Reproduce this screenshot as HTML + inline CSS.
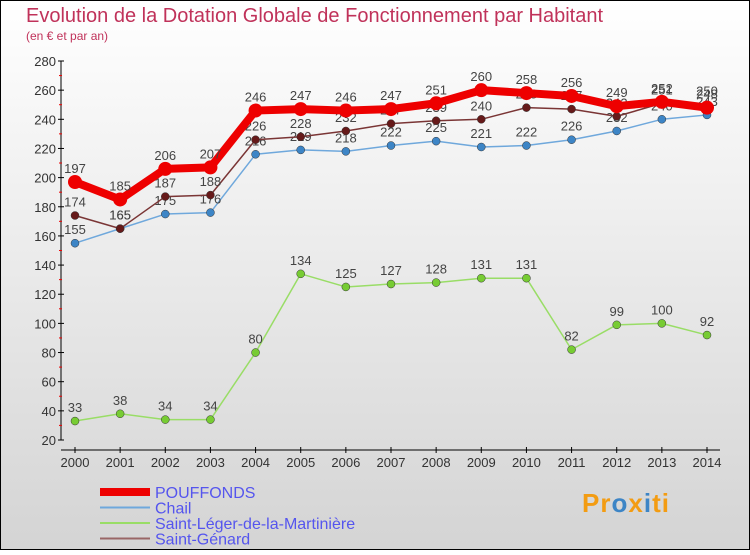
<!DOCTYPE html>
<html><head><meta charset="utf-8"><style>
body{margin:0}
#c{width:750px;height:550px;position:relative;font-family:"Liberation Sans",sans-serif}
</style></head><body>
<div id="c">
<svg id="s" width="750" height="550" xmlns="http://www.w3.org/2000/svg">
<defs><linearGradient id="bg" x1="0" y1="0" x2="0" y2="1"><stop offset="0" stop-color="#ffffff"/><stop offset="1" stop-color="#d4d4d4"/></linearGradient></defs>
<rect x="0.5" y="0.5" width="749" height="549" fill="url(#bg)" stroke="#000"/>
<text x="26" y="22" font-size="20" fill="#c0325a">Evolution de la Dotation Globale de Fonctionnement par Habitant</text>
<text x="26" y="40" font-size="12" fill="#c0325a">(en € et par an)</text>
<g id="axes"></g><g id="series"></g><g id="legend"></g>
</svg>
<script>
const years=[2000,2001,2002,2003,2004,2005,2006,2007,2008,2009,2010,2011,2012,2013,2014];
const pouffonds=[197,185,206,207,246,247,246,247,251,260,258,256,249,252,248];
const chail=[155,165,175,176,216,219,218,222,225,221,222,226,232,240,243];
const saintLeger=[33,38,34,34,80,134,125,127,128,131,131,82,99,100,92];
const saintGenard=[174,165,187,188,226,228,232,237,239,240,248,247,242,251,250];
const yTicks=[20,40,60,80,100,120,140,160,180,200,220,240,260,280];
const NS="http://www.w3.org/2000/svg";
const xS=i=>75+i*(707-75)/14;
const yS=v=>440-(v-20)*(440-61)/260;
function mk(t,a,p){const e=document.createElementNS(NS,t);for(const k in a)e.setAttribute(k,a[k]);p.appendChild(e);return e;}
const ax=document.getElementById('axes');
let l=mk('line',{x1:61,y1:61,x2:61,y2:440,stroke:'#000'},ax);


l=mk('line',{x1:61,y1:450,x2:720,y2:450,stroke:'#000'},ax);


yTicks.forEach(v=>{const y=yS(v);
mk('line',{x1:58,y1:y,x2:64,y2:y,stroke:'#000'},ax);
if(v<280)mk('line',{x1:59,y1:y-14.6,x2:62,y2:y-14.6,stroke:'#e00'},ax);
const t=mk('text',{x:56,y:y+5,'font-size':13,'text-anchor':'end',fill:'#333'},ax);t.textContent=v;

});
years.forEach((yr,i)=>{const x=xS(i);
mk('line',{x1:x,y1:447,x2:x,y2:453,stroke:'#000'},ax);
const t=mk('text',{x:x,y:467,'font-size':13,'text-anchor':'middle',fill:'#333'},ax);t.textContent=yr;

});
const sg=document.getElementById('series');
const series=[
 {n:'saint-leger',d:saintLeger,c:'#99dd66',m:'#77cc33',w:1.5,r:4},
 {n:'chail',d:chail,c:'#6fa8dc',m:'#3d85c6',w:1.5,r:4},
 {n:'saint-genard',d:saintGenard,c:'#7a3535',m:'#661a1a',w:1.5,r:4},
 {n:'pouffonds',d:pouffonds,c:'#ee0000',m:'#ee0000',w:8,r:7}];
series.forEach(s=>{
 const p=mk('polyline',{points:s.d.map((v,i)=>xS(i)+','+yS(v)).join(' '),fill:'none',stroke:s.c,'stroke-width':s.w,'stroke-linejoin':'round'},sg);
 
 
 s.d.forEach((v,i)=>{const c=mk('circle',{cx:xS(i),cy:yS(v),r:s.r,fill:s.m,stroke:s.n=='pouffonds'?'none':'#333','stroke-width':0.5},sg);
 
 
 const t=mk('text',{x:xS(i),y:yS(v)-9,'font-size':13,'text-anchor':'middle',fill:'#444'},sg);t.textContent=v;
 
 });
});
const lg=document.getElementById('legend');
const leg=[['POUFFONDS','#ee0000',8],['Chail','#6fa8dc',2],['Saint-Léger-de-la-Martinière','#99dd66',2],['Saint-Génard','#996666',2]];
leg.forEach((e,i)=>{const y=492+i*15.5;
 const ln=mk('line',{x1:100,y1:y,x2:150,y2:y,stroke:e[1],'stroke-width':e[2]},lg);
 
 
 const t=mk('text',{x:155,y:y+6,'font-size':16,fill:'#5555ee'},lg);t.textContent=e[0];
 
 });
</script>
<div style="position:absolute;left:582px;top:488px;font:bold 26px 'Liberation Sans',sans-serif;color:#f39c12;letter-spacing:1px">Pr<span style="color:#3d85c6">o</span>x<span style="color:#3d85c6">i</span>ti</div>
</div>
</body></html>
